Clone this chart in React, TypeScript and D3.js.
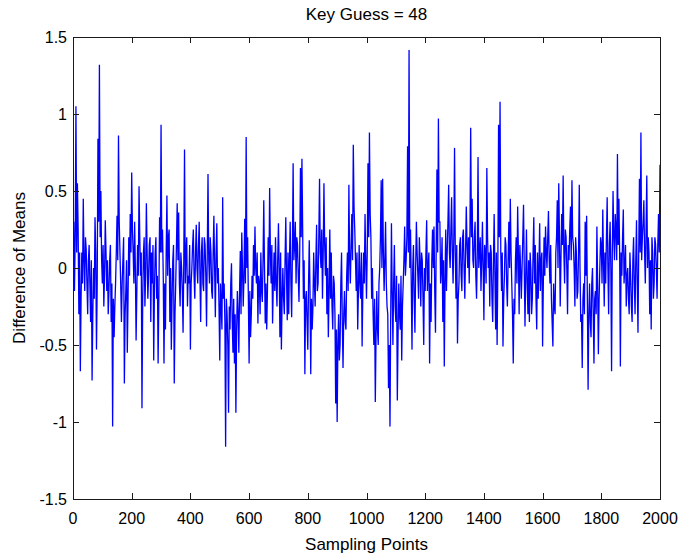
import React from "react";
import * as d3 from "d3";

// Difference of means: values at sampling points 0,5,10,... (on)
// and the in-between readings at 2.5,7.5,12.5,... (mid), in blocks of 250 points.
const on0000 = [
  0.15, -0.15, 1.05, 0.55, -0.3, -0.67, 0.1, 0.45, -0.15, 0.12,
  -0.3, 0.15, -0.35, -0.73, 0.0, 0.33, -0.53, 0.84, 1.32, 0.5,
  -0.1, -0.25, 0.31, -0.15, -0.3, 0.05, -0.35, -1.03, -0.45, -0.1,
  0.34, 0.86, 0.1, -0.35, 0.05, -0.75, -0.15, -0.55, 0.2, 0.35,
  0.62, 0.1, 0.3, -0.47, 0.15, 0.53, -0.05, -0.91, 0.1, -0.25,
];
const mid0000 = [
  0.3, 0.2, 0.1, 0.25, 0.1, -0.2, -0.1, 0.05, 0.2, -0.1,
  0.05, -0.1, 0.05, -0.3, -0.2, 0.1, -0.1, 0.3, 0.2, 0.05,
  0.15, -0.05, 0.1, 0.05, -0.15, 0.15, -0.1, -0.2, -0.25, 0.1,
  0.05, 0.3, -0.1, -0.1, 0.2, -0.3, 0.05, -0.2, -0.05, 0.1,
  0.25, -0.1, 0.0, -0.15, -0.05, 0.2, 0.1, -0.2, 0.2, -0.05,
];
const on0250 = [
  0.42, -0.2, 0.15, -0.35, -0.1, -0.6, 0.1, -0.2, -0.62, 0.33,
  0.93, 0.25, -0.62, -0.4, 0.47, 0.2, -0.35, -0.53, 0.05, -0.75,
  -0.1, 0.42, 0.36, -0.25, 0.0, -0.42, 0.77, 0.1, -0.25, -0.1,
  -0.53, 0.0, 0.25, -0.2, 0.28, -0.1, 0.3, -0.35, 0.2, -0.15,
  0.15, -0.38, 0.61, -0.1, 0.1, -0.2, 0.34, -0.32, 0.29, 0.0,
];
const mid0250 = [
  0.1, -0.05, 0.2, 0.1, 0.15, -0.15, 0.2, -0.05, -0.2, 0.1,
  0.1, -0.05, -0.1, 0.1, -0.05, 0.25, 0.0, -0.2, 0.15, -0.3,
  0.15, 0.05, -0.1, 0.1, -0.15, 0.05, -0.1, 0.2, -0.05, 0.15,
  -0.1, 0.15, -0.05, 0.1, 0.0, 0.15, -0.05, 0.1, -0.1, 0.2,
  -0.05, 0.1, 0.05, 0.2, -0.15, 0.1, 0.0, 0.1, -0.1, -0.25,
];
const on0500 = [
  -0.6, -0.25, 0.46, -0.1, -1.16, -0.3, -0.94, -0.4, 0.03, -0.55,
  -0.62, -0.94, -0.15, -0.55, 0.11, 0.23, -0.25, 0.32, 0.85, 0.2,
  -0.62, -0.45, -0.05, 0.15, 0.27, -0.1, -0.36, -0.1, 0.1, -0.22,
  0.44, -0.36, -0.4, 0.2, 0.52, -0.1, -0.36, 0.1, 0.2, -0.25,
  0.29, -0.45, -0.53, 0.0, -0.3, 0.33, -0.34, -0.3, 0.3, -0.32,
];
const mid0500 = [
  -0.1, -0.4, -0.2, -0.35, -0.2, -0.5, -0.25, -0.1, -0.35, -0.2,
  -0.3, -0.4, -0.3, -0.15, -0.3, 0.0, -0.05, -0.1, 0.0, -0.2,
  -0.15, -0.3, -0.2, -0.05, 0.0, 0.1, -0.05, -0.3, -0.15, 0.05,
  0.0, -0.1, -0.15, -0.05, 0.1, 0.15, -0.1, -0.15, -0.1, 0.05,
  0.0, 0.1, -0.2, -0.2, 0.05, -0.05, 0.1, 0.05, -0.1, 0.1,
];
const on0750 = [
  0.68, 0.15, -0.1, 0.15, -0.22, 0.65, 0.71, -0.2, -0.69, -0.15,
  -0.53, 0.18, -0.69, -0.4, 0.1, -0.25, 0.28, -0.1, 0.58, 0.0,
  -0.2, 0.55, -0.05, -0.3, -0.45, 0.25, 0.1, -0.4, -0.1, -0.88,
  -1.0, -0.3, -0.5, 0.1, -0.65, -0.15, -0.4, 0.1, 0.54, -0.1,
  0.35, 0.8, 0.25, -0.15, -0.4, 0.15, -0.2, -0.51, 0.1, 0.35,
];
const mid0750 = [
  0.05, 0.3, 0.2, -0.05, 0.1, 0.2, 0.25, 0.05, -0.2, -0.35,
  -0.1, -0.15, -0.2, -0.25, -0.1, 0.05, -0.15, 0.2, 0.1, 0.25,
  0.1, 0.15, 0.2, 0.0, -0.15, -0.2, -0.25, -0.05, -0.3, -0.4,
  -0.5, -0.6, -0.1, -0.35, -0.3, -0.35, -0.05, -0.15, 0.05, 0.15,
  0.05, 0.4, 0.05, 0.1, -0.15, -0.1, 0.1, -0.15, -0.1, 0.05,
];
const on1000 = [
  -0.2, 0.68, 0.88, 0.2, 0.0, -0.5, -0.87, -0.15, -0.5, 0.0,
  0.57, 0.58, -0.15, 0.3, -0.25, -0.78, -1.03, 0.29, -0.5, 0.15,
  -0.35, -0.86, -0.1, -0.4, -0.6, -0.1, 0.27, 0.05, 0.79, 1.415,
  0.25, -0.53, 0.15, -0.42, 0.3, -0.05, 0.2, -0.25, 0.05, -0.5,
  -0.15, 0.31, 0.0, -0.62, -0.35, 0.25, 0.27, -0.42, 0.64, 0.97,
];
const mid1000 = [
  0.1, 0.2, 0.35, -0.2, -0.3, -0.2, -0.45, -0.4, -0.1, 0.2,
  0.0, 0.1, 0.05, -0.1, -0.3, -0.5, -0.3, -0.15, -0.1, -0.25,
  -0.05, -0.45, -0.3, -0.05, -0.25, 0.05, -0.05, 0.2, 0.1, 0.0,
  -0.1, 0.0, -0.2, 0.0, 0.1, -0.2, 0.05, 0.1, -0.2, 0.0,
  0.1, -0.15, 0.1, -0.1, 0.05, 0.0, -0.15, 0.15, 0.1, 0.3,
];
const on1250 = [
  0.3, 0.0, -0.35, -0.64, 0.25, 0.1, 0.54, 0.0, 0.46, -0.1,
  0.78, -0.2, -0.49, -0.1, 0.2, -0.15, 0.25, -0.2, 0.4, 0.0,
  -0.1, 0.91, 0.45, 0.0, 0.3, -0.2, 0.72, 0.1, -0.15, 0.3,
  -0.34, 0.1, 0.65, 0.0, -0.25, 0.1, -0.35, 0.35, -0.4, -0.5,
  0.93, 1.08, -0.15, -0.51, -0.05, 0.15, -0.25, 0.3, 0.45, -0.1,
];
const mid1250 = [
  -0.1, 0.2, 0.05, -0.1, -0.15, 0.3, 0.1, 0.25, 0.1, 0.2,
  0.1, 0.15, -0.2, 0.15, -0.05, 0.2, 0.0, 0.1, 0.15, 0.2,
  0.25, 0.2, 0.05, 0.2, -0.05, 0.1, 0.0, 0.2, 0.05, 0.0,
  0.15, -0.1, 0.2, 0.1, 0.15, -0.2, 0.05, -0.05, 0.1, 0.0,
  0.2, 0.1, 0.1, -0.2, 0.2, -0.1, 0.05, 0.0, 0.1, -0.3,
];
const on1500 = [
  -0.62, -0.3, 0.2, 0.4, -0.3, 0.0, 0.0, 0.41, -0.38, 0.25,
  -0.3, -0.35, 0.0, -0.2, 0.33, 0.15, -0.4, -0.2, 0.29, 0.05,
  -0.51, 0.2, 0.27, 0.0, 0.37, -0.1, -0.2, -0.51, -0.25, 0.1,
  0.44, 0.55, -0.25, 0.35, 0.6, -0.1, 0.2, -0.3, 0.05, 0.4,
  0.57, 0.15, -0.25, 0.1, -0.15, 0.54, -0.35, -0.65, -0.1, 0.3,
];
const mid1500 = [
  -0.2, 0.05, -0.1, 0.1, 0.15, -0.2, 0.2, 0.0, -0.05, -0.1,
  0.05, 0.1, -0.3, 0.1, -0.1, -0.2, 0.1, 0.0, -0.15, 0.1,
  -0.1, -0.05, 0.1, 0.2, 0.05, 0.15, -0.35, -0.1, -0.3, 0.2,
  0.0, 0.2, 0.05, 0.15, 0.1, 0.25, 0.0, 0.15, 0.25, 0.05,
  0.2, 0.0, 0.2, -0.2, 0.1, 0.0, -0.3, -0.2, -0.3, -0.05,
];
const on1750 = [
  0.34, -0.79, -0.1, -0.45, 0.0, -0.62, -0.15, 0.27, -0.56, 0.0,
  0.15, 0.38, -0.25, -0.1, 0.46, -0.3, 0.3, -0.67, 0.5, 0.05,
  0.25, 0.74, 0.45, -0.64, -0.05, 0.38, 0.0, -0.25, 0.0, -0.3,
  -0.05, -0.35, 0.2, -0.3, 0.31, -0.42, 0.58, 0.88, 0.2, 0.44,
  -0.1, 0.6, 0.2, -0.3, -0.4, 0.1, -0.1, 0.15, -0.2, 0.35,
  0.67,
];
const mid1750 = [
  -0.2, -0.3, -0.35, -0.1, -0.3, -0.2, -0.3, -0.1, -0.2, 0.2,
  -0.1, 0.05, 0.1, 0.2, 0.0, 0.15, 0.0, 0.1, 0.2, 0.35,
  0.05, 0.15, 0.1, 0.1, 0.2, -0.1, 0.15, -0.05, -0.2, 0.1,
  -0.25, 0.05, -0.1, 0.05, -0.1, 0.1, 0.1, 0.05, 0.3, 0.1,
  0.25, 0.0, 0.1, 0.05, 0.2, -0.2, 0.2, 0.0, 0.15, 0.1,
];

const HALF_STEP = 2.5;
const onValues = [
  ...on0000, ...on0250, ...on0500, ...on0750,
  ...on1000, ...on1250, ...on1500, ...on1750,
];
const midValues = [
  ...mid0000, ...mid0250, ...mid0500, ...mid0750,
  ...mid1000, ...mid1250, ...mid1500, ...mid1750,
];

const xTicks = [0, 200, 400, 600, 800, 1000, 1200, 1400, 1600, 1800, 2000];
const yTicks = [-1.5, -1, -0.5, 0, 0.5, 1, 1.5];
const titleText = "Key Guess = 48";
const xLabel = "Sampling Points";
const yLabel = "Difference of Means";

const W = 679;
const H = 554;
const left = 73;
const right = 660;
const top = 37;
const bottom = 499;
const FONT = '"Liberation Sans", Arial, Helvetica, sans-serif';

export default function App() {
  const x = d3.scaleLinear().domain([0, 2000]).range([left, right]);
  const y = d3.scaleLinear().domain([-1.5, 1.5]).range([bottom, top]);

  const series: number[] = [];
  onValues.forEach((v, i) => {
    series.push(v);
    if (i < midValues.length) series.push(midValues[i]);
  });

  const line = d3
    .line<number>()
    .x((_, i) => x(i * HALF_STEP))
    .y((d) => y(d));
  const tick = 6;
  const axisColor = "#1a1a1a";

  return (
    <svg
      width={W}
      height={H}
      style={{ position: "absolute", left: 0, top: 0, background: "#fff" }}
      fontFamily={FONT}
    >
      <rect x={0} y={0} width={W} height={H} fill="#fff" />
      <defs>
        <clipPath id="plotclip">
          <rect x={left} y={top} width={right - left} height={bottom - top} />
        </clipPath>
      </defs>
      <path
        d={line(series) || ""}
        fill="none"
        stroke="#0000ff"
        strokeWidth={1.3}
        strokeLinejoin="miter"
        clipPath="url(#plotclip)"
      />
      <rect
        x={left + 0.5}
        y={top + 0.5}
        width={right - left}
        height={bottom - top}
        fill="none"
        stroke={axisColor}
        strokeWidth={1}
      />
      {xTicks.map((t) => {
        const px = Math.round(x(t)) + 0.5;
        return (
          <g key={"x" + t}>
            <line x1={px} x2={px} y1={bottom} y2={bottom - tick} stroke={axisColor} />
            <line x1={px} x2={px} y1={top} y2={top + tick} stroke={axisColor} />
            <text x={x(t)} y={524} fontSize={16} textAnchor="middle" fill="#000">
              {t}
            </text>
          </g>
        );
      })}
      {yTicks.map((t) => {
        const py = Math.round(y(t)) + 0.5;
        return (
          <g key={"y" + t}>
            <line x1={left} x2={left + tick} y1={py} y2={py} stroke={axisColor} />
            <line x1={right} x2={right - tick} y1={py} y2={py} stroke={axisColor} />
            <text x={67} y={y(t) + 6} fontSize={16} textAnchor="end" fill="#000">
              {t}
            </text>
          </g>
        );
      })}
      <text x={(left + right) / 2} y={20} fontSize={17} textAnchor="middle" fill="#000">
        {titleText}
      </text>
      <text x={(left + right) / 2} y={550} fontSize={17} textAnchor="middle" fill="#000">
        {xLabel}
      </text>
      <text
        transform={`translate(25, ${(top + bottom) / 2}) rotate(-90)`}
        fontSize={17}
        textAnchor="middle"
        fill="#000"
      >
        {yLabel}
      </text>
    </svg>
  );
}
